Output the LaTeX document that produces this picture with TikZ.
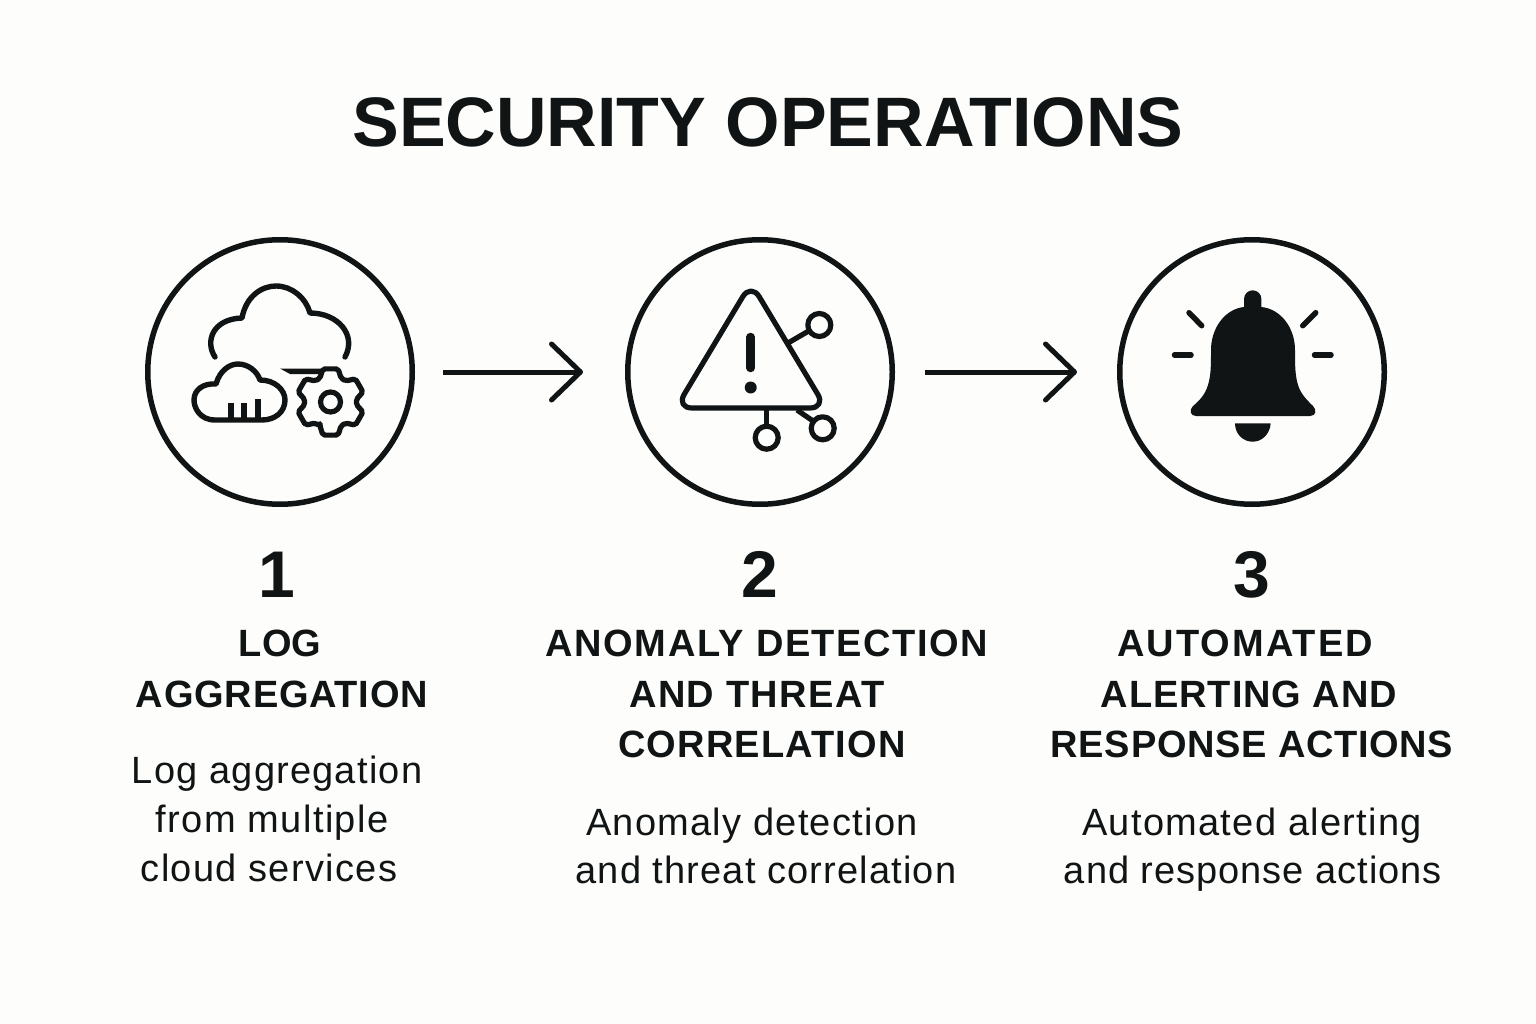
\documentclass[tikz,border=0pt]{standalone}
\usepackage{fontspec}
\setmainfont{Liberation Sans}
\usetikzlibrary{arrows.meta,calc}
\definecolor{ink}{HTML}{111414}
\definecolor{paper}{HTML}{FDFDFB}
\newcommand{\hls}[1]{\addfontfeature{LetterSpace=#1}}
\tikzset{
  x=1pt,y=-1pt,
  ringnode/.style={circle,draw=ink,line width=5.5pt,minimum size=264.5pt,inner sep=0pt},
  flow/.style={draw=ink,line width=5pt,-{Straight Barb[length=29pt,width=56pt,line width=5pt,round]}},
  icon/.style={draw=ink,line width=5.4pt,line cap=round,line join=round},
  ticon/.style={draw=ink,line width=5.2pt,line cap=round,line join=round},
  ray/.style={draw=ink,line width=5.5pt,line cap=round},
  titletext/.style={anchor=base,inner sep=0pt,text=ink,font=\fontsize{70}{70}\selectfont\bfseries},
  numtext/.style={anchor=base,inner sep=0pt,text=ink,font=\fontsize{66}{66}\selectfont\bfseries},
  headtext/.style={anchor=base,inner sep=0pt,text=ink,font=\fontsize{38}{38}\selectfont\bfseries},
  bodytext/.style={anchor=base,inner sep=0pt,text=ink,font=\fontsize{38}{38}\selectfont},
}
\begin{document}
\begin{tikzpicture}
\useasboundingbox (0,0) rectangle (1536,1024);
\fill[paper] (0,0) rectangle (1536,1024);
\node[titletext] (title) at (768,147) {SECURITY OPERATIONS};
\node[ringnode] (c1) at (280,372) {};
\node[ringnode] (c2) at (760,372) {};
\node[ringnode] (c3) at (1252,372) {};
\draw[flow,shorten <=28pt,shorten >=42pt] (c1) -- (c2);
\draw[flow,shorten <=30pt,shorten >=40pt] (c2) -- (c3);
% icon 1
\draw[icon] (215,357) .. controls (205,342) and (212,319) .. (242,318)
  .. controls (246,296) and (262,286) .. (276,286)
  .. controls (292,286) and (306,298) .. (310,313)
  .. controls (338,313) and (357,335) .. (345,357);
\draw[icon] (215,420) .. controls (200,420) and (194,408) .. (194,400)
  .. controls (194,390) and (203,383) .. (216,384)
  .. controls (220,370) and (230,364) .. (238,364)
  .. controls (248,364) and (257,371) .. (260,380)
  .. controls (275,380) and (285,390) .. (285,400)
  .. controls (285,412) and (275,420) .. (262,420) -- cycle;
\draw[icon,line cap=butt] (231,420) -- (231,403) (244,420) -- (244,403) (258,420) -- (258,399);
\fill[ink] (280,368.5) -- (322,368.5) -- (322,374) -- (290,374) -- cycle;
\draw[ticon] (330.5,402) circle[radius=10];
\draw[ticon,rounded corners=2pt] ($(330.5,402)+(114:26)$)
  foreach \t in {90,30,-30,-90,-150,-210} {
    -- ($(330.5,402)+(\t+24:26)$) -- ($(330.5,402)+(\t+13:34)$) -- ($(330.5,402)+(\t-13:34)$) -- ($(330.5,402)+(\t-24:26)$)
  } -- cycle;
% icon 2
\draw[ticon,rounded corners=16pt] (751,283) -- (826,408) -- (676,408) -- cycle;
\draw[draw=ink,line width=8.5pt,line cap=round] (750.7,337) -- (750.7,368);
\fill[ink] (750.7,387.5) circle[radius=6];
\draw[ticon,line cap=butt] (788,343) -- (809.5,330.5);
\draw[ticon,line cap=butt] (766.7,409) -- (766.7,426);
\draw[ticon,line cap=butt] (797,410) -- (813,421);
\draw[ticon] (819.3,325) circle[radius=11.5];
\draw[ticon] (766.7,437.7) circle[radius=11.5];
\draw[ticon] (822.7,428.3) circle[radius=11.5];
% icon 3
\fill[ink] (1244,307) -- (1244,299) arc[start angle=180,end angle=360,radius=8.7] -- (1261.4,307)
  .. controls (1281,309) and (1295,328) .. (1295,350)
  .. controls (1295,365) and (1295,375) .. (1298,385)
  .. controls (1301,395) and (1309,402) .. (1313,406)
  .. controls (1317,410) and (1316,416) .. (1310,416)
  -- (1196,416)
  .. controls (1190,416) and (1189,410) .. (1193,406)
  .. controls (1199,401) and (1205,395) .. (1208,385)
  .. controls (1211,375) and (1211,365) .. (1211,350)
  .. controls (1211,328) and (1225,309) .. (1244,307) -- cycle;
\fill[ink] (1235,423.3) -- (1270.7,423.3) .. controls (1270,434) and (1262,441.7) .. (1252.7,441.7)
  .. controls (1243,441.7) and (1235,434) .. (1235,423.3) -- cycle;
\draw[ray] (1174.5,355) -- (1191,355);
\draw[ray] (1314.5,355) -- (1331,355);
\draw[ray] (1189,312.7) -- (1201.7,325.7);
\draw[ray] (1315.7,312.7) -- (1302.7,325.7);
% text
\node[numtext] (n1) at (277,597) {1};
\node[numtext] (n2) at (760,597) {2};
\node[numtext] (n3) at (1252,597) {3};
\node[headtext] (h11) at (280,656) {\hls{0.8}LOG};
\node[headtext] (h12) at (282,707) {\hls{2.1}AGGREGATION};
\node[headtext] (h21) at (767,656) {\hls{4.2}ANOMALY DETECTION};
\node[headtext] (h22) at (757,707) {\hls{3.7}AND THREAT};
\node[headtext] (h23) at (762,757) {\hls{3.2}CORRELATION};
\node[headtext] (h31) at (1245,656) {\hls{5.5}AUTOMATED};
\node[headtext] (h32) at (1249,707) {\hls{2.4}ALERTING AND};
\node[headtext] (h33) at (1252,757) {\hls{1.8}RESPONSE ACTIONS};
\node[bodytext] (b11) at (277,783) {\hls{3.2}Log aggregation};
\node[bodytext] (b12) at (272,832) {\hls{3.7}from multiple};
\node[bodytext] (b13) at (269,881) {\hls{3.4}cloud services};
\node[bodytext] (b21) at (752,835) {\hls{3.3}Anomaly detection};
\node[bodytext] (b22) at (766,883) {\hls{3}and threat correlation};
\node[bodytext] (b31) at (1252,835) {\hls{3.4}Automated alerting};
\node[bodytext] (b32) at (1253,883) {\hls{2.6}and response actions};
\end{tikzpicture}
\end{document}
